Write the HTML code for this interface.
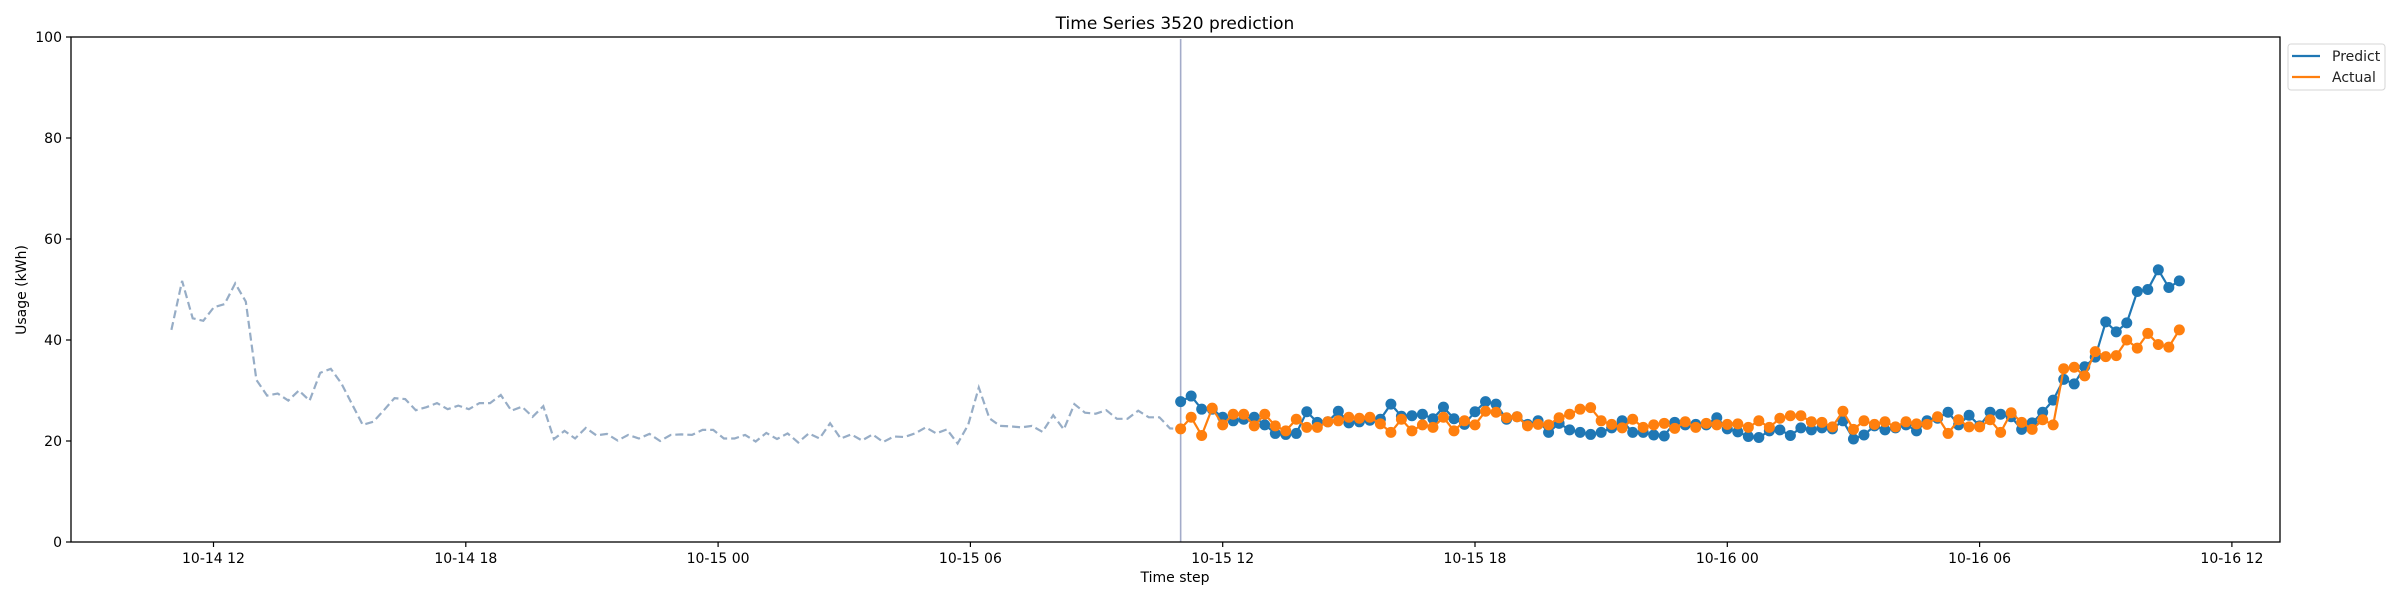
<!DOCTYPE html>
<html><head><meta charset="utf-8"><style>
html,body{margin:0;padding:0;background:#fff;}
svg{display:block;font-family:"DejaVu Sans","Liberation Sans",sans-serif;}
</style></head><body>
<svg id="chart" width="2400" height="600" viewBox="0 0 2400 600" xmlns="http://www.w3.org/2000/svg">
<rect x="0" y="0" width="2400" height="600" fill="#fff"/>
<text x="1175" y="29" text-anchor="middle" font-size="17" fill="#000">Time Series 3520 prediction</text>
<g id="yticks"></g>
<g id="xticks"></g>
<g id="plot"></g>
<rect x="71" y="37" width="2209" height="505" fill="none" stroke="#000" stroke-width="1.3"/>
<text x="1175" y="582" text-anchor="middle" font-size="14" fill="#000">Time step</text>
<text transform="translate(26,290) rotate(-90)" text-anchor="middle" font-size="14" fill="#000">Usage (kWh)</text>
<g>
<rect x="2288" y="44" width="97" height="46" rx="3" fill="#fff" stroke="#d6d6d6" stroke-width="1"/>
<g><line x1="2292" y1="56" x2="2320" y2="56" stroke="#1f77b4" stroke-width="2.2"/><text x="2332" y="61" font-size="14" fill="#222">Predict</text></g>
<g><line x1="2292" y1="77" x2="2320" y2="77" stroke="#ff7f0e" stroke-width="2.2"/><text x="2332" y="82" font-size="14" fill="#222">Actual</text></g>
</g>
</svg>
<script>
const yTicks = [0, 20, 40, 60, 80, 100];
const xTickHours = [0, 6, 12, 18, 24, 30, 36, 42, 48];
const xTickLabels = ["10-14 12","10-14 18","10-15 00","10-15 06","10-15 12","10-15 18","10-16 00","10-16 06","10-16 12"];
const historyStart = -1.0;
const forecastStart = 23.0;
const stepHours = 0.25;
const history = [42.0,51.7,44.3,43.8,46.5,47.1,51.2,47.6,32.1,29.0,29.4,28.0,30.0,28.0,33.5,34.3,31.4,27.3,23.2,23.8,26.1,28.5,28.3,26.1,26.7,27.5,26.3,27.0,26.3,27.5,27.5,29.1,26.0,26.8,24.8,26.9,20.4,22.0,20.5,22.6,21.1,21.4,20.1,21.2,20.5,21.4,20.0,21.2,
21.3,21.2,22.2,22.2,20.5,20.5,21.2,19.9,21.6,20.4,21.5,19.7,21.5,20.5,23.5,20.5,21.3,20.1,21.3,19.8,20.9,20.8,21.5,22.7,21.5,22.3,19.5,23.2,30.6,24.5,23.0,22.9,22.7,23.0,21.8,25.1,22.3,27.3,25.6,25.4,26.1,24.4,24.4,26.0,24.7,24.7,22.5,22.4];
const predict = [27.8,28.9,26.3,26.3,24.7,24.0,24.3,24.7,23.2,21.5,21.3,21.5,25.8,23.7,23.8,25.9,23.6,23.8,24.1,24.3,27.3,24.9,25.0,25.3,
24.4,26.7,24.4,23.3,25.8,27.8,27.3,24.3,24.8,23.3,24.0,21.7,23.5,22.2,21.7,21.3,21.7,22.6,24.0,21.7,21.7,21.2,21.0,23.7,
23.2,23.3,23.2,24.6,22.4,21.8,20.9,20.7,22.0,22.2,21.1,22.6,22.2,22.6,22.4,24.0,20.4,21.2,23.0,22.2,22.6,23.2,22.0,24.0,
24.5,25.7,23.2,25.1,23.0,25.7,25.3,24.8,22.3,23.6,25.7,28.1,32.2,31.3,34.7,36.6,43.6,41.6,43.4,49.6,50.0,53.9,50.4,51.7];
const actual = [22.4,24.7,21.1,26.5,23.2,25.3,25.3,23.0,25.3,23.0,22.0,24.3,22.7,22.7,23.8,24.0,24.7,24.5,24.7,23.4,21.7,24.3,22.0,23.2,
22.7,24.7,22.0,24.0,23.2,25.9,25.7,24.6,24.8,23.0,23.3,23.2,24.6,25.3,26.3,26.6,24.0,23.3,22.6,24.3,22.7,23.2,23.5,22.5,
23.8,22.7,23.5,23.2,23.3,23.4,22.7,24.0,22.7,24.5,25.0,25.0,23.8,23.7,22.8,25.9,22.3,24.0,23.3,23.8,22.8,23.8,23.4,23.3,
24.8,21.5,24.2,22.8,22.8,24.2,21.7,25.6,23.7,22.3,24.2,23.2,34.3,34.6,32.9,37.7,36.7,36.9,40.0,38.4,41.3,39.1,38.6,42.0];

const NS = "http://www.w3.org/2000/svg";
const X0 = 213.5, PXH = 252.3 / 6;
function xScale(h) { return X0 + h * PXH; }
function yScale(v) { return 542 - v * 5.05; }
function mk(tag, attrs, parent) {
  const e = document.createElementNS(NS, tag);
  for (const k in attrs) e.setAttribute(k, attrs[k]);
  parent.appendChild(e);
  return e;
}
const yG = document.getElementById('yticks');
yTicks.forEach(v => {
  const y = yScale(v);
  const t = mk('line', {x1: 66, x2: 71, y1: y, y2: y, stroke: '#000', 'stroke-width': 1.2}, yG);
  
  
  const l = mk('text', {x: 62, y: y + 5, 'text-anchor': 'end', 'font-size': 14, fill: '#000'}, yG);
  l.textContent = v;
  
  
});
const xG = document.getElementById('xticks');
xTickHours.forEach((h, i) => {
  const x = xScale(h);
  const t = mk('line', {x1: x, x2: x, y1: 542, y2: 547, stroke: '#000', 'stroke-width': 1.2}, xG);
  
  
  const l = mk('text', {x: x, y: 563, 'text-anchor': 'middle', 'font-size': 14, fill: '#000'}, xG);
  l.textContent = xTickLabels[i];
  
  
});
const plot = document.getElementById('plot');
const histStep = (forecastStart - historyStart) / (history.length - 1);
const hp = history.map((v, i) => xScale(historyStart + i * histStep).toFixed(1) + ',' + yScale(v).toFixed(1));
const hl = mk('polyline', {points: hp.join(' '), fill: 'none', stroke: '#97adc6', 'stroke-width': 2.2, 'stroke-dasharray': '8,4'}, plot);


const vx = xScale(forecastStart);
const vl = mk('line', {x1: vx, x2: vx, y1: 39, y2: 542, stroke: '#a3abc9', 'stroke-width': 1.6}, plot);


function series(vals, color, name) {
  const g = mk('g', {}, plot);
  
  
  const pts = vals.map((v, k) => xScale(forecastStart + k * stepHours).toFixed(1) + ',' + yScale(v).toFixed(1));
  const pl = mk('polyline', {points: pts.join(' '), fill: 'none', stroke: color, 'stroke-width': 2.2}, g);
  
  
  vals.forEach((v, k) => {
    const c = mk('circle', {cx: xScale(forecastStart + k * stepHours), cy: yScale(v), r: 5.5, fill: color}, g);
    
    
  });
}
series(predict, '#1f77b4', 'predict');
series(actual, '#ff7f0e', 'actual');
</script>
</body></html>
